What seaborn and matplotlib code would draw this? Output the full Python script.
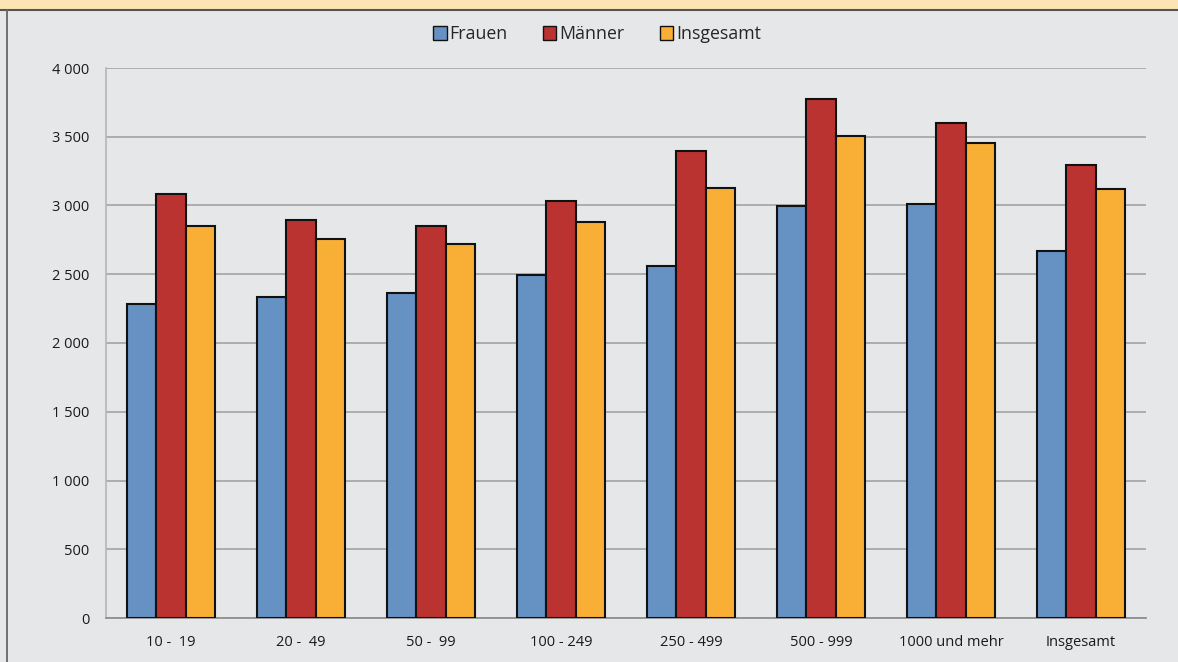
import pandas as pd
import seaborn as sns
import matplotlib.pyplot as plt
from matplotlib.patches import Rectangle, Patch
from matplotlib.lines import Line2D

# values
groups = ["10 -  19", "20 -  49", "50 -  99", "100 - 249", "250 - 499",
          "500 - 999", "1000 und mehr", "Insgesamt"]
frauen = [2286, 2337, 2364, 2495, 2562, 2999, 3014, 2669]
maenner = [3086, 2895, 2851, 3033, 3396, 3777, 3598, 3297]
insgesamt = [2853, 2759, 2720, 2878, 3129, 3508, 3452, 3120]
series = ["Frauen", "Männer", "Insgesamt"]
colors = ["#6691c3", "#bb3330", "#f9ae36"]
yticks = [0, 500, 1000, 1500, 2000, 2500, 3000, 3500, 4000]

df = pd.DataFrame({"group": groups * 3,
                   "series": [s for s in series for _ in groups],
                   "value": frauen + maenner + insgesamt})

sns.set_style("white")
plt.rcParams['font.family'] = ['Open Sans', 'DejaVu Sans']
bg = "#e6e7e8"

fig = plt.figure(figsize=(11.78, 6.62), dpi=100, facecolor=bg)
ax = fig.add_axes([106 / 1178, 44 / 662, 1040 / 1178, 550 / 662])
ax.set_facecolor(bg)

sns.barplot(data=df, x="group", y="value", hue="series", order=groups,
            hue_order=series, palette=colors, width=0.68, saturation=1,
            edgecolor="#111111", linewidth=1.5, legend=False, ax=ax, zorder=3)

ax.set_ylim(0, 4000)
ax.set_xlim(-0.5, len(groups) - 0.5)
ax.set_yticks(yticks)
ax.set_yticklabels([f"{v:,}".replace(",", " ") for v in yticks])
ax.yaxis.grid(True, color="#a8a8a8", linewidth=1.3, zorder=0)
ax.set_axisbelow(True)
ax.tick_params(axis="both", length=0, labelsize=10.5, colors="#1a1a1a")
ax.tick_params(axis="y", pad=12)
ax.tick_params(axis="x", pad=12)
ax.set_xlabel("")
ax.set_ylabel("")
for side in ["top", "right"]:
    ax.spines[side].set_visible(False)
ax.spines["left"].set_color("#b5b5b5")
ax.spines["left"].set_linewidth(1.2)
ax.spines["bottom"].set_color("#909090")
ax.spines["bottom"].set_linewidth(1.3)

# legend above the plot
handles = [Patch(facecolor=c, edgecolor="#111111", linewidth=1.0) for c in colors]
fig.legend(handles, series, loc="center", bbox_to_anchor=(597 / 1178, 1 - 34 / 662),
           ncol=3, frameon=False, fontsize=12.8, handlelength=0.75, handleheight=0.8,
           handletextpad=0.15, columnspacing=2.0)

# orange header strip and frame lines
fig.patches.append(Rectangle((0, 1 - 9.5 / 662), 1, 9.5 / 662, transform=fig.transFigure,
                             facecolor="#fde4b5", edgecolor="none", zorder=0))
fig.lines.append(Line2D([0, 1], [1 - 10 / 662] * 2, transform=fig.transFigure,
                        color="#555555", linewidth=1.5))
fig.lines.append(Line2D([6.5 / 1178] * 2, [0, 1 - 10 / 662], transform=fig.transFigure,
                        color="#666666", linewidth=1.3))

fig.savefig("out.png", dpi=100, facecolor=bg)
